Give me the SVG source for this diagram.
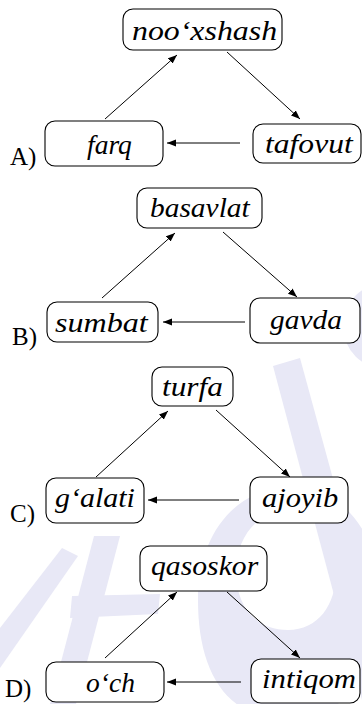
<svg xmlns="http://www.w3.org/2000/svg" width="362" height="704" viewBox="0 0 362 704">
  <style>
    .box { fill: #ffffff; stroke: #000000; stroke-width: 1.1; }
    .t { font-family: "Liberation Serif", serif; font-style: italic; font-size: 27px; fill: #000000; }
    .lbl { font-family: "Liberation Serif", serif; font-size: 25px; fill: #000000; }
    .edge { stroke: #000000; stroke-width: 1; fill: none; marker-end: url(#ah); }
    .wm { fill: #e8e8f6; stroke: none; }
  </style>
  <defs>
    <marker id="ah" markerUnits="userSpaceOnUse" markerWidth="10" markerHeight="8" refX="9" refY="3.5" orient="auto">
      <path d="M0,0 L9,3.5 L0,7 Z" fill="#000000"/>
    </marker>
  </defs>
  <rect x="0" y="0" width="362" height="704" fill="#ffffff"/>

  <g id="watermark">
    <circle class="wm" cx="386" cy="326" r="43"/>
    <polygon class="wm" points="273,366 300,358 362,585 362,700"/>
    <path class="wm" fill-rule="evenodd" d="M290,487 C240,487 198,530 198,600 C198,670 225,720 290,720 C350,720 380,660 380,600 C380,530 340,487 290,487 Z M285,512 C255,512 236,540 236,572 C236,608 258,630 288,630 C318,630 336,605 336,572 C336,538 315,512 285,512 Z"/>
    <polygon class="wm" points="94,536 120,536 76,704 50,704"/>
    <polygon class="wm" points="72,596 160,594 158,614 70,618"/>
    <polygon class="wm" points="0,628 62,548 78,556 0,668"/>
  </g>

  <g id="connectors">
    <line class="edge" x1="227" y1="52" x2="300" y2="119"/>
    <line class="edge" x1="105" y1="119" x2="177" y2="55"/>
    <line class="edge" x1="240" y1="143" x2="167" y2="143"/>

    <line class="edge" x1="223" y1="232" x2="297" y2="297"/>
    <line class="edge" x1="102" y1="298" x2="175" y2="233"/>
    <line class="edge" x1="245" y1="322" x2="163" y2="322"/>

    <line class="edge" x1="216" y1="410" x2="290" y2="477"/>
    <line class="edge" x1="96" y1="477" x2="168" y2="411"/>
    <line class="edge" x1="239" y1="500" x2="148" y2="500"/>

    <line class="edge" x1="227" y1="592" x2="300" y2="658"/>
    <line class="edge" x1="105" y1="658" x2="177" y2="592"/>
    <line class="edge" x1="241" y1="682" x2="167" y2="682"/>
  </g>

  <g id="labels">
    <text class="lbl" x="10" y="165">A)</text>
    <text class="lbl" x="12" y="345">B)</text>
    <text class="lbl" x="10" y="522">C)</text>
    <text class="lbl" x="5" y="697" font-size="24">D)</text>
  </g>

  <g id="node-nooxshash">
    <rect class="box" x="123" y="9" width="159" height="41" rx="10"/>
    <text class="t" transform="translate(132,40) scale(1.18,1)">noo‘xshash</text>
  </g>
  <g id="node-farq">
    <rect class="box" x="45" y="121" width="118" height="45" rx="10"/>
    <text class="t" transform="translate(87,154) scale(1.02,1)">farq</text>
  </g>
  <g id="node-tafovut">
    <rect class="box" x="253" y="124" width="108" height="39" rx="10"/>
    <text class="t" transform="translate(265,153) scale(1.17,1)">tafovut</text>
  </g>

  <g id="node-basavlat">
    <rect class="box" x="137" y="188" width="125" height="40" rx="10"/>
    <text class="t" transform="translate(150,217) scale(1.09,1)">basavlat</text>
  </g>
  <g id="node-sumbat">
    <rect class="box" x="47" y="302" width="111" height="40" rx="10"/>
    <text class="t" transform="translate(55,332) scale(1.19,1)">sumbat</text>
  </g>
  <g id="node-gavda">
    <rect class="box" x="250" y="298" width="110" height="45" rx="10"/>
    <text class="t" transform="translate(270,329) scale(1.09,1)">gavda</text>
  </g>

  <g id="node-turfa">
    <rect class="box" x="152" y="367" width="81" height="39" rx="10"/>
    <text class="t" transform="translate(162,396) scale(1.16,1)">turfa</text>
  </g>
  <g id="node-galati">
    <rect class="box" x="46" y="478" width="98" height="45" rx="10"/>
    <text class="t" transform="translate(55,507) scale(1.11,1)">g‘alati</text>
  </g>
  <g id="node-ajoyib">
    <rect class="box" x="250" y="477" width="98" height="46" rx="10"/>
    <text class="t" transform="translate(262,507) scale(1.13,1)">ajoyib</text>
  </g>

  <g id="node-qasoskor">
    <rect class="box" x="140" y="546" width="127" height="45" rx="10"/>
    <text class="t" transform="translate(151,575) scale(1.1,1)">qasoskor</text>
  </g>
  <g id="node-och">
    <rect class="box" x="46" y="662" width="118" height="40" rx="10"/>
    <text class="t" transform="translate(86,692) scale(1.02,1)">o‘ch</text>
  </g>
  <g id="node-intiqom">
    <rect class="box" x="251" y="659" width="109" height="44" rx="10"/>
    <text class="t" transform="translate(262,688) scale(1.14,1)">intiqom</text>
  </g>
</svg>
